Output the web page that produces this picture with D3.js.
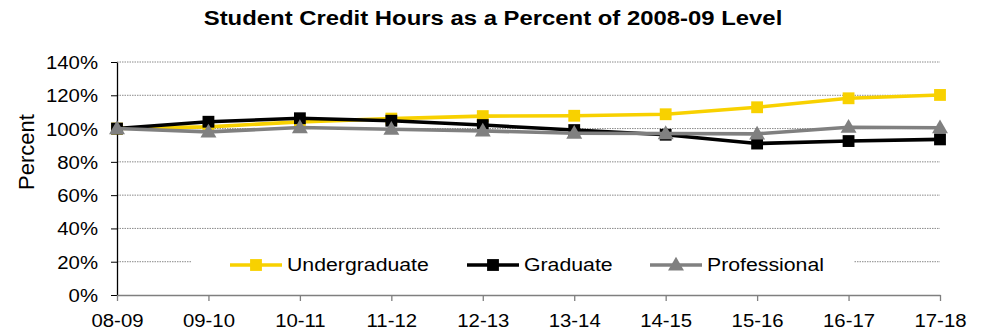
<!DOCTYPE html>
<html><head><meta charset="utf-8">
<script src="https://cdn.jsdelivr.net/npm/d3@7"></script>
<style>
body{margin:0;background:#fff;}
text{font-family:"Liberation Sans",Arial,sans-serif;}
</style></head>
<body><svg id="c" width="983" height="331"></svg>
<script>
const years = ["08-09","09-10","10-11","11-12","12-13","13-14","14-15","15-16","16-17","17-18"];
const undergraduate = [100,101,104,106,107.5,107.7,108.6,112.8,118.2,120.2];
const graduate = [100,104.1,106.2,104.7,102.1,99.1,96.3,91,92.5,93.5];
const professional = [100,98,100.6,99.6,98.6,97.2,97,96.8,100.8,100.5];
const yTicks = [0,20,40,60,80,100,120,140];
const seriesNames = ["Undergraduate","Graduate","Professional"];
const title = "Student Credit Hours as a Percent of 2008-09 Level";
const yTitle = "Percent";

const colors = ["#F8D100","#000000","#808080"];
const shapes = [d3.symbolSquare, d3.symbolSquare, d3.symbolTriangle];
const series = [undergraduate, graduate, professional];

const svg = d3.select("#c");
const L=117, R=940, T=62, B=295;
const SX = 1.1;
const x = d3.scalePoint().domain(years).range([L,R]);
const y = d3.scaleLinear().domain([0,140]).range([B,T]);

// gridlines
svg.append("g").selectAll("line").data(yTicks.filter(d=>d>0)).join("line")
  .attr("x1",L).attr("x2",R).attr("y1",d=>y(d)).attr("y2",d=>y(d))
  .attr("stroke","#8a8a8a").attr("stroke-width",1).attr("stroke-dasharray","1.5,1");

// legend background
const legY = 265;
svg.append("rect").attr("x",192).attr("y",legY-14).attr("width",662).attr("height",28).attr("fill","#fff");

// y axis
const ya = svg.append("g").attr("transform",`translate(${L},0)`)
  .call(d3.axisLeft(y).tickValues(yTicks).tickSize(6).tickSizeOuter(0).tickFormat(d=>d+"%"));
ya.select(".domain").attr("stroke","#000").attr("stroke-width",1.3);
ya.selectAll(".tick line").attr("stroke","#000");
ya.selectAll(".tick text").attr("font-size",18.5).attr("fill","#000").attr("x",0)
  .attr("text-anchor","end").attr("dy","0.35em")
  .attr("transform",`translate(-19,0) scale(${SX},1)`);

// x axis
const xa = svg.append("g").attr("transform",`translate(0,${B})`)
  .call(d3.axisBottom(x).tickSize(6).tickSizeOuter(0));
xa.select(".domain").attr("stroke","#7f7f7f").attr("stroke-width",1.5);
xa.selectAll(".tick line").attr("stroke","#7f7f7f").attr("stroke-width",1.3);
xa.selectAll(".tick text").attr("font-size",18.5).attr("fill","#000").attr("y",0).attr("dy",0)
  .attr("transform",`translate(0,32) scale(${SX},1)`);

// lines
const line = d3.line().x((d,i)=>x(years[i])).y(d=>y(d));
series.forEach((s,k)=>{
  const g = svg.append("g");
  g.append("path").datum(s).attr("d",line).attr("fill","none")
    .attr("stroke",colors[k]).attr("stroke-width",3.6).attr("stroke-linejoin","round");
  g.selectAll("path.m").data(s).join("path").attr("class","m")
    .attr("d",d3.symbol().type(shapes[k]).size(k===2?110:140))
    .attr("transform",(d,i)=>`translate(${x(years[i])},${y(d)+(k===2?1:0)})`)
    .attr("fill",colors[k]);
});

// y title
svg.append("text").attr("transform",`translate(34,152) rotate(-90)`)
  .attr("text-anchor","middle").attr("font-size",22).attr("fill","#000").text(yTitle);

// title
svg.append("text").attr("transform",`translate(493,25) scale(1.165,1)`)
  .attr("text-anchor","middle").attr("font-size",20.5).attr("font-weight","bold").attr("fill","#000").text(title);

// legend
const legX = [230,467,650];
seriesNames.forEach((n,k)=>{
  const g = svg.append("g").attr("transform",`translate(${legX[k]},${legY})`);
  g.append("line").attr("x1",0).attr("x2",52).attr("stroke",colors[k]).attr("stroke-width",3.6);
  g.append("path").attr("d",d3.symbol().type(shapes[k]).size(k===2?110:140))
    .attr("transform",`translate(26,${k===2?1:0})`).attr("fill",colors[k]);
  g.append("text").attr("transform",`translate(57,0) scale(1.15,1)`).attr("dy","0.35em")
    .attr("font-size",18.5).attr("fill","#000").text(n);
});
</script></body></html>
